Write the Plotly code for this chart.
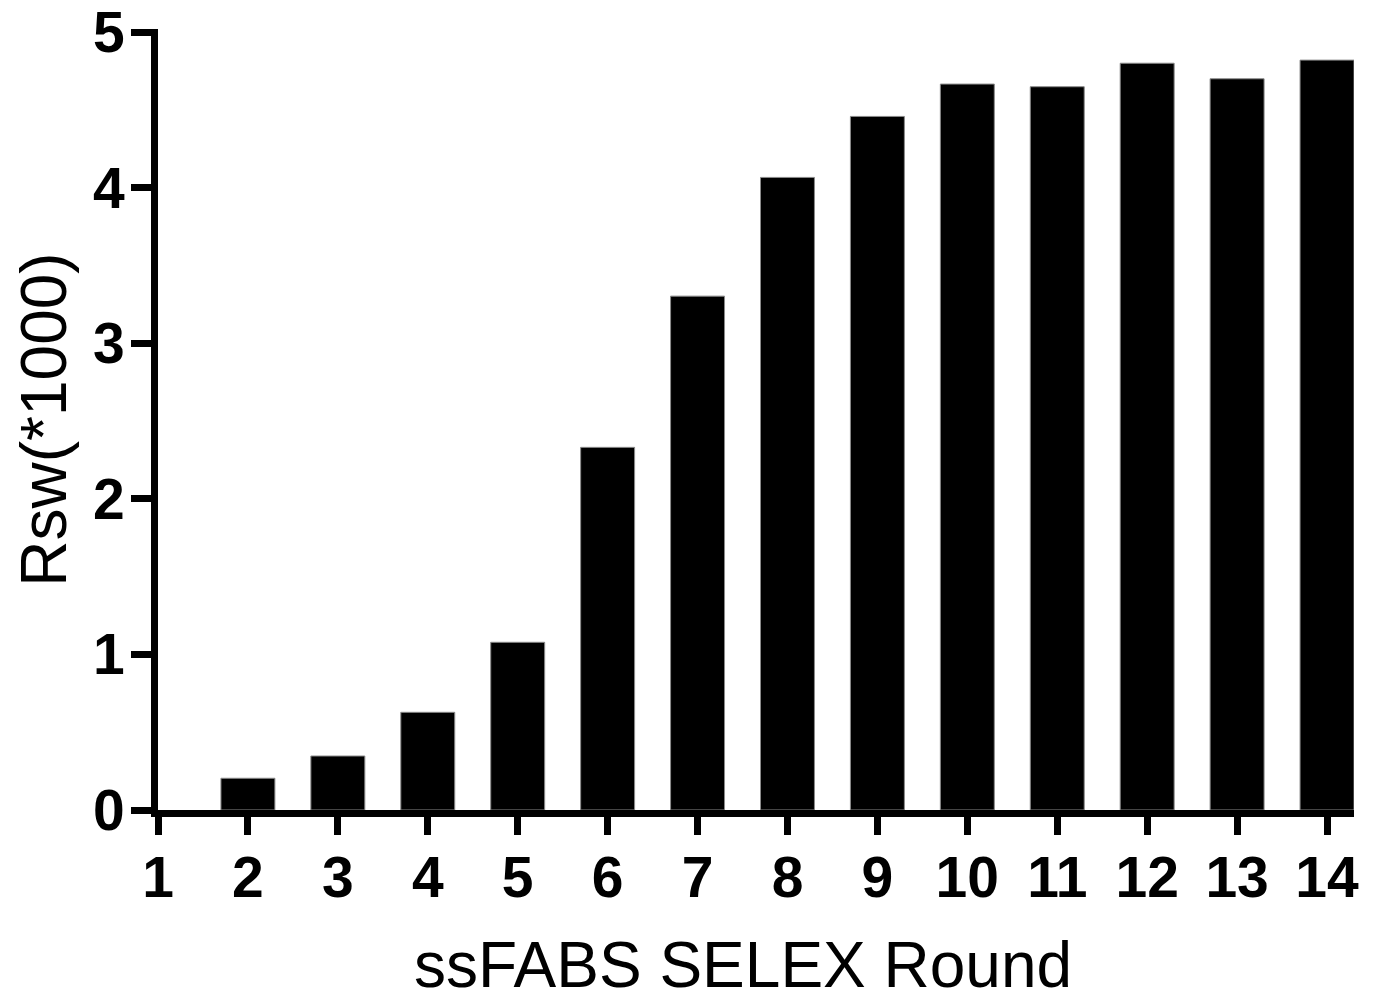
import plotly.graph_objects as go

rounds = [1, 2, 3, 4, 5, 6, 7, 8, 9, 10, 11, 12, 13, 14]
rsw = [0.0, 0.204, 0.347, 0.628, 1.078, 2.331, 3.303, 4.066, 4.458, 4.666, 4.649, 4.80, 4.70, 4.82]
y_ticks = [0, 1, 2, 3, 4, 5]
x_title = "ssFABS SELEX Round"
y_title = "Rsw(*1000)"

FONT = "Liberation Sans, Arial, Helvetica, sans-serif"

outline_widths = [0 if v == 0 else 1 for v in rsw]

fig = go.Figure(
    go.Bar(
        x=rounds,
        y=rsw,
        width=0.6,
        marker=dict(color="black", line=dict(color="#8a8a8a", width=outline_widths)),
    )
)

fig.update_layout(
    width=1378,
    height=997,
    margin=dict(l=150, r=32, t=21, b=195, autoexpand=False),
    plot_bgcolor="white",
    paper_bgcolor="white",
    showlegend=False,
    font=dict(family=FONT, color="black"),
    annotations=[
        dict(
            text=x_title,
            xref="paper",
            yref="paper",
            x=0.489,
            y=-0.199,
            xanchor="center",
            yanchor="middle",
            showarrow=False,
            font=dict(family=FONT, size=64, color="black"),
        )
    ],
)

fig.update_xaxes(
    range=[1, 14.3],
    tickvals=rounds,
    ticktext=[str(r) for r in rounds],
    showgrid=False,
    zeroline=False,
    showline=True,
    linecolor="black",
    linewidth=7,
    ticks="outside",
    ticklen=18,
    tickwidth=7,
    tickcolor="black",
    tickfont=dict(family=FONT, size=57, color="black", weight="bold"),
    ticklabelstandoff=-6,
    ticklabeloverflow="allow",
)

fig.update_yaxes(
    range=[0, 5.02],
    tickvals=y_ticks,
    ticktext=[str(v) for v in y_ticks],
    showgrid=False,
    zeroline=False,
    showline=True,
    linecolor="black",
    linewidth=7,
    ticks="outside",
    ticklen=20,
    tickwidth=7,
    tickcolor="black",
    tickfont=dict(family=FONT, size=57, color="black", weight="bold"),
    ticklabelstandoff=-5,
    ticklabeloverflow="allow",
    title=dict(text=y_title, font=dict(family=FONT, size=64, color="black"), standoff=29),
)

fig.write_html("out.html")
